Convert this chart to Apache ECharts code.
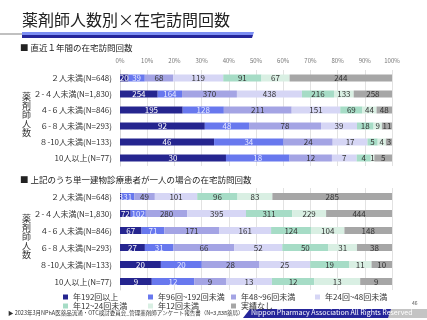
<!DOCTYPE html>
<html>
<head>
<meta charset="utf-8">
<script src="https://cdn.jsdelivr.net/npm/echarts@6/dist/echarts.min.js"></script>
<style>
  html, body { margin: 0; padding: 0; background: #fff; }
  #main { width: 427px; height: 320px; }
</style>
</head>
<body>
<div id="main"></div>
<script>
const categories = ['２人未満(N=648)', '２-４人未満(N=1,830)', '４-６人未満(N=846)', '６-８人未満(N=293)', '８-10人未満(N=133)', '10人以上(N=77)']
const seriesNames = ['年192回以上', '年96回~192回未満', '年48~96回未満', '年24回~48回未満', '年12~24回未満', '年12回未満', '実績なし']
const xTicks = ['0%', '10%', '20%', '30%', '40%', '50%', '60%', '70%', '80%', '90%', '100%']

// 直近1年間の在宅訪問回数 (件数)
const recentCounts = [
  [20, 254, 195, 92, 46, 30],
  [39, 164, 128, 48, 34, 18],
  [68, 370, 211, 78, 24, 12],
  [119, 438, 151, 39, 17, 7],
  [91, 216, 69, 18, 5, 4],
  [67, 133, 44, 9, 4, 1],
  [244, 258, 48, 11, 3, 5]
]
// 単一建物診療患者が一人の場合 (件数)
const singleCounts = [
  [3, 72, 67, 27, 20, 9],
  [31, 102, 71, 31, 20, 12],
  [49, 280, 171, 66, 28, 9],
  [101, 395, 161, 52, 25, 13],
  [96, 311, 124, 50, 19, 12],
  [83, 229, 104, 31, 11, 13],
  [285, 444, 148, 38, 10, 9]
]

const colors = ['#25258f', '#6878ee', '#a4a4e4', '#d6d6f5', '#a6dcc6', '#d9efe3', '#a6a6a6']
const labelColors = ['#fff', '#e8eaff', '#333', '#333', '#333', '#333', '#333']
const FONT = '"Noto Sans CJK JP", sans-serif'

const chart = echarts.init(document.getElementById('main'))

function rowTotals (counts) {
  return categories.map((c, i) => counts.reduce((s, arr) => s + arr[i], 0))
}

function makeSeries (counts, axisIdx) {
  const totals = rowTotals(counts)
  return counts.map((arr, si) => ({
    name: seriesNames[si],
    type: 'bar',
    stack: 'st' + axisIdx,
    xAxisIndex: axisIdx,
    yAxisIndex: axisIdx,
    barWidth: 7,
    itemStyle: { color: colors[si] },
    label: {
      show: true,
      position: 'inside',
      fontSize: 8,
      fontFamily: FONT,
      color: labelColors[si],
      formatter: p => arr[p.dataIndex]
    },
    data: arr.map((v, i) => v / totals[i] * 100)
  }))
}

const legendPos = [
  [63, 293], [148, 293], [231, 293], [315, 293],
  [63, 302], [148, 302], [231, 302]
]

const options = {
  animation: false,
  textStyle: { fontFamily: FONT },
  grid: [
    { left: 120, right: 35, top: 70, height: 96 },
    { left: 120, right: 35, top: 188, height: 102 }
  ],
  xAxis: [0, 1].map(i => ({
    gridIndex: i,
    type: 'value',
    min: 0,
    max: 100,
    interval: 10,
    position: 'top',
    axisLine: { show: false },
    axisTick: { show: false },
    axisLabel: {
      show: i === 0,
      fontSize: 6,
      color: '#777',
      margin: 6,
      formatter: v => xTicks[v / 10]
    },
    splitLine: { lineStyle: { color: '#e2e2e2', width: 1 } }
  })),
  yAxis: [0, 1].map(i => ({
    gridIndex: i,
    type: 'category',
    inverse: true,
    data: categories,
    axisLine: { show: true, lineStyle: { color: '#d8d8d8' } },
    axisTick: { show: false },
    axisLabel: { fontSize: 8, color: '#333', margin: 8 }
  })),
  legend: seriesNames.map((n, i) => ({
    data: [n],
    left: legendPos[i][0],
    top: legendPos[i][1],
    itemWidth: 5,
    itemHeight: 5,
    itemGap: 3,
    icon: 'rect',
    padding: 0,
    textStyle: { fontSize: 8, color: '#333', fontFamily: FONT }
  })),
  series: [...makeSeries(recentCounts, 0), ...makeSeries(singleCounts, 1)],
  graphic: [
    { type: 'text', left: 22, top: 12, style: { text: '薬剤師人数別×在宅訪問回数', fontSize: 16, fill: '#222', fontFamily: FONT } },
    { type: 'rect', shape: { x: 0, y: 33, width: 24, height: 2 }, style: { fill: '#c0c0c0' } },
    { type: 'polygon', shape: { points: [[22, 32], [254, 32], [253, 35], [22, 35]] }, style: { fill: '#7c8ef2' } },
    { type: 'polygon', shape: { points: [[22, 35], [253, 35], [252, 38], [22, 38]] }, style: { fill: '#25259a' } },
    { type: 'text', left: 20, top: 44, style: { text: '■ 直近１年間の在宅訪問回数', fontSize: 8.5, fill: '#222', fontFamily: FONT } },
    { type: 'text', left: 20, top: 176, style: { text: '■ 上記のうち単一建物診療患者が一人の場合の在宅訪問回数', fontSize: 8.5, fill: '#222', fontFamily: FONT } },
    { type: 'text', left: 22, top: 92, style: { text: '薬\n剤\n師\n人\n数', fontSize: 9, lineHeight: 9, fill: '#333', fontFamily: FONT } },
    { type: 'text', left: 22, top: 214, style: { text: '薬\n剤\n師\n人\n数', fontSize: 9, lineHeight: 9, fill: '#333', fontFamily: FONT } },
    { type: 'text', left: 8, top: 310, style: { text: '▶ 2023年3月NPhA医薬品流通・OTC検討委員会_管理薬剤師アンケート報告書（N=3,838薬局）', fontSize: 5.5, fill: '#333', fontFamily: FONT } },
    { type: 'polygon', shape: { points: [[388, 309], [427, 309], [427, 318], [386, 318]] }, style: { fill: '#c4c4c4' } },
    { type: 'polygon', shape: { points: [[250, 309], [391, 309], [388, 318], [243, 318]] }, style: { fill: '#25259a' } },
    { type: 'text', left: 251, top: 309, style: { text: 'Nippon Pharmacy Association All Rights Reserved', fontSize: 7, fill: '#fff', fontFamily: FONT } },
    { type: 'text', left: 412, top: 301, style: { text: '46', fontSize: 5, fill: '#555', fontFamily: FONT } }
  ]
}

chart.setOption(options)
</script>
</body>
</html>
